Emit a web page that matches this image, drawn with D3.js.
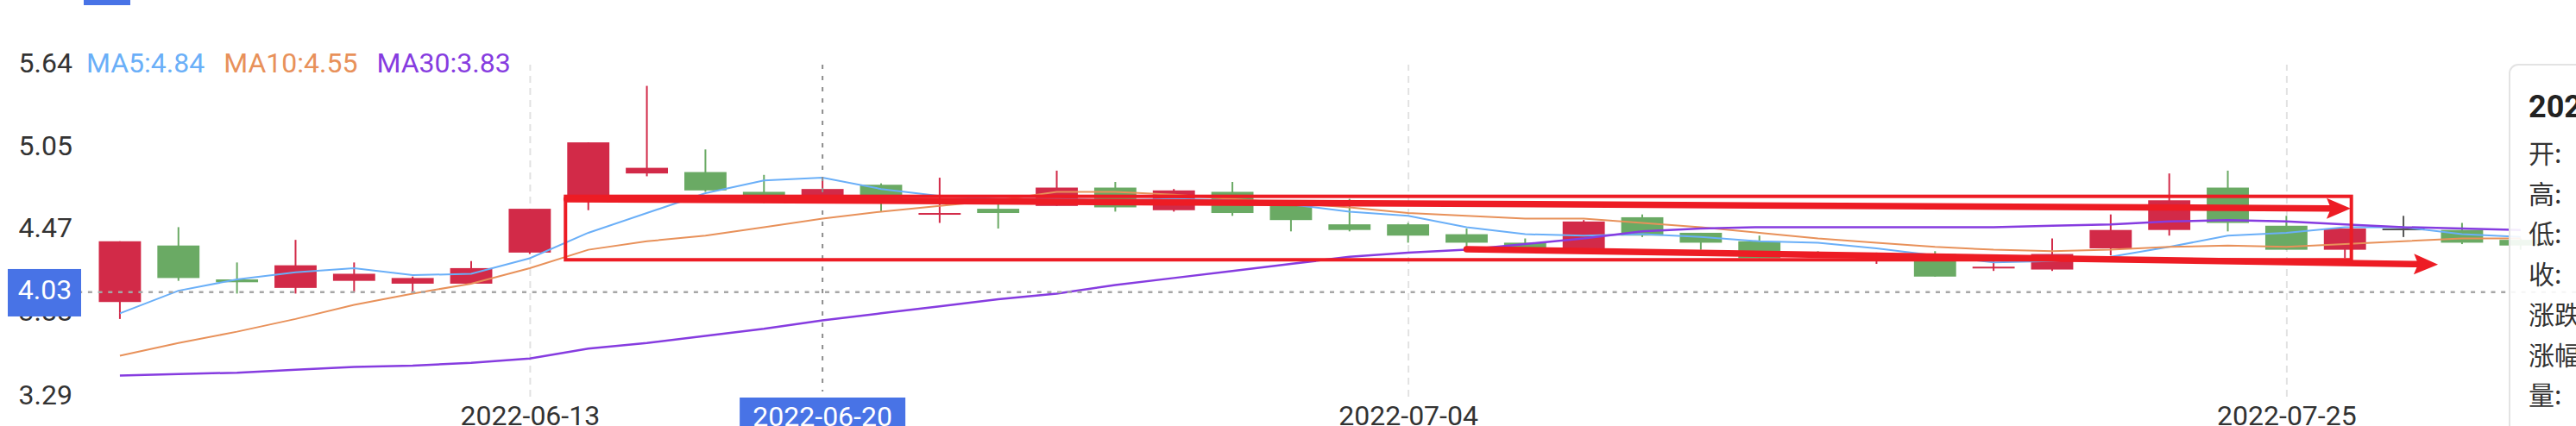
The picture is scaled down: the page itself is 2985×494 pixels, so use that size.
<!DOCTYPE html>
<html>
<head>
<meta charset="utf-8">
<script src="https://cdn.jsdelivr.net/npm/d3@7"></script>
<style>
  html, body { margin: 0; padding: 0; background: #fff; overflow: hidden; }
  svg { display: block; font-family: Roboto, "Noto Sans CJK SC", sans-serif; }
</style>
</head>
<body>
<div id="chart"></div>
<script>
// trading days shown on the chart
const dates = [
  "2022-06-01", "2022-06-02", "2022-06-06", "2022-06-07", "2022-06-08", "2022-06-09", "2022-06-10",
  "2022-06-13", "2022-06-14", "2022-06-15", "2022-06-16", "2022-06-17",
  "2022-06-20", "2022-06-21", "2022-06-22", "2022-06-23", "2022-06-24",
  "2022-06-27", "2022-06-28", "2022-06-29", "2022-06-30", "2022-07-01",
  "2022-07-04", "2022-07-05", "2022-07-06", "2022-07-07", "2022-07-08",
  "2022-07-11", "2022-07-12", "2022-07-13", "2022-07-14", "2022-07-15",
  "2022-07-18", "2022-07-19", "2022-07-20", "2022-07-21", "2022-07-22",
  "2022-07-25", "2022-07-26", "2022-07-27", "2022-07-28", "2022-07-29"
];
const opens = [3.96, 4.36, 4.12, 4.06, 4.11, 4.09, 4.09, 4.31, 4.68, 4.87, 4.88, 4.74, 4.71, 4.79,
  4.58, 4.62, 4.64, 4.77, 4.61, 4.74, 4.67, 4.51, 4.51, 4.44, 4.38, 4.34, 4.56, 4.45, 4.39, 4.31,
  4.27, 4.30, 4.20, 4.19, 4.34, 4.47, 4.77, 4.50, 4.33, 4.48, 4.47, 4.40];
const closes = [4.39, 4.13, 4.10, 4.22, 4.16, 4.13, 4.20, 4.62, 5.09, 4.91, 4.75, 4.71, 4.76, 4.67,
  4.59, 4.59, 4.77, 4.63, 4.75, 4.59, 4.54, 4.47, 4.43, 4.38, 4.34, 4.53, 4.43, 4.38, 4.27, 4.28,
  4.29, 4.14, 4.21, 4.30, 4.47, 4.68, 4.52, 4.33, 4.48, 4.48, 4.38, 4.36];
const highs = [4.39, 4.49, 4.24, 4.40, 4.24, 4.14, 4.25, 4.62, 5.09, 5.49, 5.04, 4.86, 4.83, 4.80,
  4.84, 4.67, 4.89, 4.81, 4.76, 4.81, 4.68, 4.69, 4.52, 4.48, 4.41, 4.54, 4.58, 4.45, 4.43, 4.32,
  4.31, 4.32, 4.26, 4.41, 4.58, 4.87, 4.89, 4.57, 4.48, 4.57, 4.52, 4.41];
const lows = [3.84, 4.11, 4.02, 4.02, 4.03, 4.03, 4.09, 4.30, 4.61, 4.85, 4.74, 4.66, 4.69, 4.60,
  4.52, 4.48, 4.64, 4.60, 4.60, 4.57, 4.46, 4.46, 4.38, 4.35, 4.34, 4.34, 4.42, 4.33, 4.27, 4.28,
  4.23, 4.14, 4.18, 4.18, 4.29, 4.43, 4.46, 4.33, 4.27, 4.42, 4.37, 4.33];

const ma5 = [3.88, 4.04, 4.12, 4.17, 4.20, 4.15, 4.16, 4.27, 4.45, 4.59, 4.73, 4.82, 4.84, 4.76,
  4.71, 4.69, 4.69, 4.68, 4.69, 4.68, 4.65, 4.60, 4.57, 4.49, 4.44, 4.43, 4.44, 4.42, 4.39, 4.38,
  4.34, 4.29, 4.24, 4.25, 4.28, 4.35, 4.43, 4.45, 4.49, 4.49, 4.44, 4.42];
const ma10 = [3.58, 3.67, 3.75, 3.84, 3.94, 4.02, 4.09, 4.20, 4.33, 4.39, 4.43, 4.49, 4.55, 4.60,
  4.64, 4.68, 4.74, 4.74, 4.72, 4.69, 4.66, 4.63, 4.59, 4.57, 4.55, 4.55, 4.52, 4.49, 4.45, 4.41,
  4.38, 4.35, 4.33, 4.32, 4.33, 4.35, 4.36, 4.35, 4.37, 4.39, 4.41, 4.41];
const ma30 = [3.44, 3.45, 3.46, 3.48, 3.50, 3.51, 3.53, 3.56, 3.63, 3.67, 3.72, 3.77, 3.83, 3.88,
  3.93, 3.98, 4.02, 4.08, 4.13, 4.18, 4.23, 4.28, 4.31, 4.33, 4.37, 4.41, 4.46, 4.48, 4.49, 4.49,
  4.49, 4.49, 4.49, 4.50, 4.51, 4.53, 4.54, 4.53, 4.51, 4.49, 4.48, 4.47];

const yTicks = [3.29, 3.88, 4.47, 5.05, 5.64];
const xTickIdx = [7, 22, 37];
const hoverIdx = 12;       // crosshair sits on 2022-06-20
const hoverPrice = 4.03;
const tipLabels = ["开:", "高:", "低:", "收:", "涨跌:", "涨幅:", "量:"];

// hand drawn marks on the screenshot, in [index, price]
const boxCorners = [[7.61, 4.708], [38.11, 4.259]];
const arrowLines = [
  [[7.63, 4.688], [38.10, 4.622]],
  [[23.0, 4.334], [39.59, 4.226]]
];

const W = 2985, H = 494;
const RED = "#d22a48", GREEN = "#6aaa64", FLAT = "#555";
const maColors = ["#6aaff8", "#e8915a", "#863ce0"];
const MARK = "#ed1c24";
const BLUE = "#4873e6";

const svg = d3.select("#chart").append("svg")
  .attr("width", W).attr("height", H);

const x = d3.scaleBand().domain(dates).range([105, 105 + dates.length * 67.85]);
const bw = x.bandwidth();
const xi = d3.scaleLinear()
  .domain([0, dates.length - 1])
  .range([x(dates[0]) + bw / 2, x(dates[dates.length - 1]) + bw / 2]);
const y = d3.scaleLinear().domain([3.29, 5.64]).range([460, 75]);
const gridTop = y.range()[1], gridBottom = y.range()[0];

// blue tab at the very top
svg.append("rect").attr("x", 97).attr("y", 0).attr("width", 54).attr("height", 6).attr("fill", BLUE);

// x axis: grid lines + date labels
const xAxis = svg.append("g")
  .attr("transform", `translate(0,${gridBottom})`)
  .call(d3.axisBottom(xi).tickValues(xTickIdx).tickFormat(i => dates[i])
    .tickSizeInner(-(gridBottom - gridTop)).tickSizeOuter(0).tickPadding(10));
xAxis.select(".domain").remove();
xAxis.selectAll(".tick line")
  .attr("stroke", "#e2e2e2").attr("stroke-width", 2).attr("stroke-dasharray", "8 6");
xAxis.selectAll(".tick text")
  .attr("fill", "#333").style("font-size", "32px").style("font-family", "Roboto");

// y axis labels
const yAxis = svg.append("g")
  .attr("transform", "translate(84,0)")
  .call(d3.axisLeft(y).tickValues(yTicks).tickFormat(d3.format(".2f")).tickSize(0).tickPadding(0));
yAxis.select(".domain").remove();
yAxis.selectAll(".tick text")
  .attr("fill", "#333").attr("dy", "0.25em").style("font-size", "32px").style("font-family", "Roboto");

// candles
const candles = dates.map((d, i) => ({ i, o: opens[i], c: closes[i], h: highs[i], l: lows[i] }));
const colorOf = k => (k.c > k.o ? RED : k.c < k.o ? GREEN : FLAT);
const bodyW = bw * 0.72;
const cg = svg.append("g").selectAll("g").data(candles).join("g");
cg.append("line")
  .attr("x1", k => xi(k.i)).attr("x2", k => xi(k.i))
  .attr("y1", k => y(k.h)).attr("y2", k => y(k.l))
  .attr("stroke", colorOf).attr("stroke-width", 2);
cg.append("rect")
  .attr("x", k => xi(k.i) - bodyW / 2)
  .attr("width", bodyW)
  .attr("y", k => Math.min(y(k.o), y(k.c)))
  .attr("height", k => Math.max(2, Math.abs(y(k.o) - y(k.c))))
  .attr("fill", colorOf);

// moving averages
const line = d3.line().x((d, i) => xi(i)).y(d => y(d));
[ma5, ma10, ma30].forEach((s, j) => {
  svg.append("path").datum(s)
    .attr("d", line).attr("fill", "none")
    .attr("stroke", maColors[j]).attr("stroke-width", j === 2 ? 2.5 : 2);
});

// crosshair
svg.append("line")
  .attr("x1", xi(hoverIdx)).attr("x2", xi(hoverIdx))
  .attr("y1", gridTop).attr("y2", gridBottom - 6)
  .attr("stroke", "#8c8c8c").attr("stroke-width", 2).attr("stroke-dasharray", "5 8");
svg.append("line")
  .attr("x1", 20).attr("x2", W)
  .attr("y1", y(hoverPrice)).attr("y2", y(hoverPrice))
  .attr("stroke", "#a6a6a6").attr("stroke-width", 2.5).attr("stroke-dasharray", "5 6.7");

// hand drawn box and arrows
const [c0, c1] = boxCorners;
svg.append("rect")
  .attr("x", xi(c0[0])).attr("y", y(c0[1]))
  .attr("width", xi(c1[0]) - xi(c0[0])).attr("height", y(c1[1]) - y(c0[1]))
  .attr("fill", "none").attr("stroke", MARK).attr("stroke-width", 4);
arrowLines.forEach(([a, b]) => {
  const x0 = xi(a[0]), y0 = y(a[1]), x1 = xi(b[0]), y1 = y(b[1]);
  const ang = Math.atan2(y1 - y0, x1 - x0);
  const len = 28, half = 12, notch = 5;
  const bx = x1 - len * Math.cos(ang), by = y1 - len * Math.sin(ang);
  svg.append("line")
    .attr("x1", x0).attr("y1", y0)
    .attr("x2", bx + notch * Math.cos(ang)).attr("y2", by + notch * Math.sin(ang))
    .attr("stroke", MARK).attr("stroke-width", 7.5).attr("stroke-linecap", "round");
  const px = -Math.sin(ang), py = Math.cos(ang);
  const pts = [
    [x1, y1],
    [bx + half * px, by + half * py],
    [bx + notch * Math.cos(ang), by + notch * Math.sin(ang)],
    [bx - half * px, by - half * py]
  ];
  svg.append("polygon").attr("points", pts.map(p => p.join(",")).join(" ")).attr("fill", MARK);
});

// crosshair labels
const yl = svg.append("g").attr("transform", `translate(52,${y(hoverPrice) + 0.7})`);
yl.append("rect").attr("x", -43).attr("y", -27.5).attr("width", 85).attr("height", 55).attr("fill", BLUE);
yl.append("text").attr("text-anchor", "middle").attr("y", 8)
  .attr("fill", "#fff").style("font-size", "32px").text(d3.format(".2f")(hoverPrice));

const xl = svg.append("g").attr("transform", `translate(${xi(hoverIdx)},${gridBottom})`);
xl.append("rect").attr("x", -96).attr("y", 1).attr("width", 192).attr("height", 44).attr("fill", BLUE);
xl.append("text").attr("text-anchor", "middle").attr("y", 34)
  .attr("fill", "#fff").style("font-size", "32px").text(dates[hoverIdx]);

// legend
const leg = svg.append("g").attr("transform", "translate(100,83.5)");
let lx = 0;
[["MA5", ma5], ["MA10", ma10], ["MA30", ma30]].forEach(([name, s], j) => {
  const t = leg.append("text").attr("x", lx).attr("fill", maColors[j])
    .style("font-size", "32px").text(`${name}:${d3.format(".2f")(s[hoverIdx])}`);
  lx += t.node().getComputedTextLength() + 22;
});

// tooltip (mostly off screen)
const tip = svg.append("g").attr("transform", "translate(2908,75)");
tip.append("rect").attr("width", 320).attr("height", 460).attr("rx", 10)
  .attr("fill", "rgba(255,255,255,0.9)").attr("stroke", "#e3e3e3").attr("stroke-width", 2);
tip.append("text").attr("x", 22).attr("y", 61)
  .attr("fill", "#222").style("font-size", "36px").style("font-weight", "bold").text(dates[hoverIdx]);
tip.selectAll(".row").data(tipLabels).join("text")
  .attr("class", "row")
  .attr("x", 22).attr("y", (d, i) => 114 + i * 46.7)
  .attr("fill", "#333")
  .style("font-family", "'Noto Sans CJK SC', sans-serif").style("font-size", "30px")
  .text(d => d);
</script>
</body>
</html>
